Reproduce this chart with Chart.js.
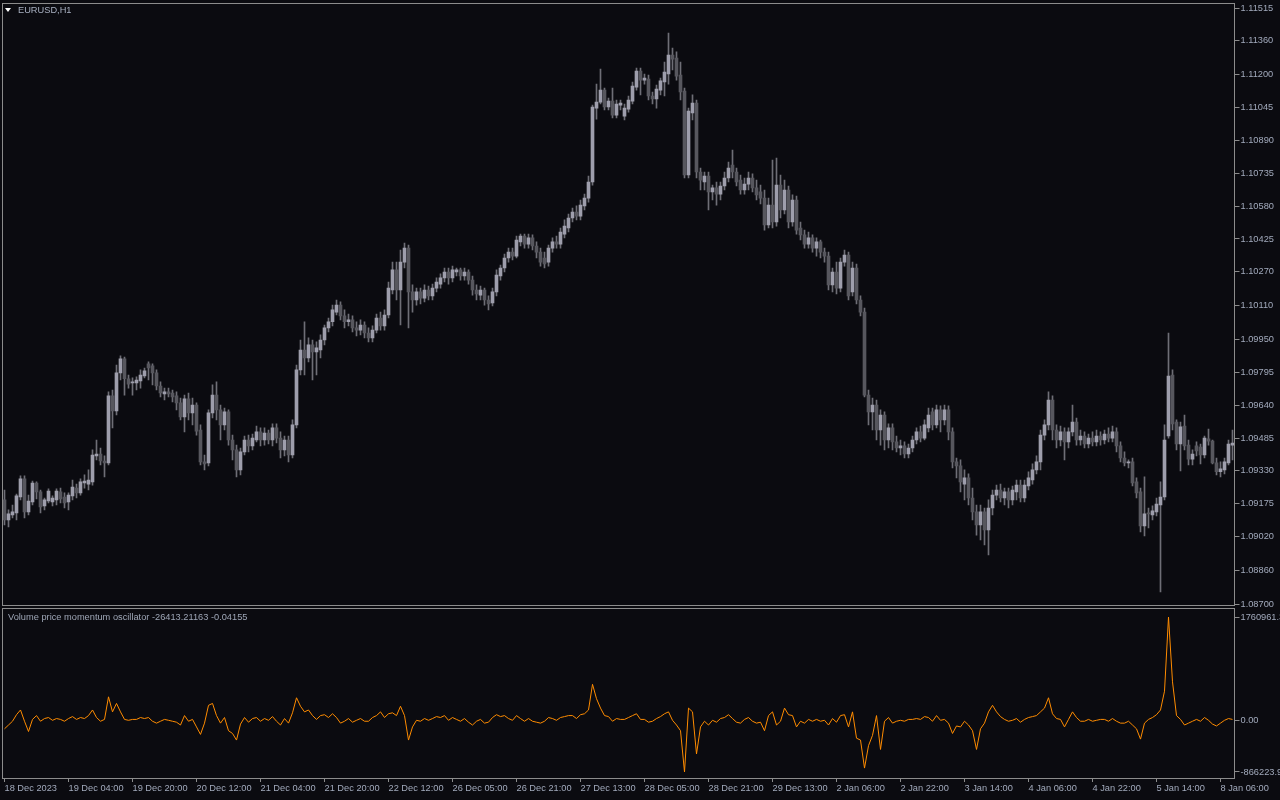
<!DOCTYPE html>
<html>
<head>
<meta charset="utf-8">
<title>EURUSD,H1</title>
<script src="https://cdn.jsdelivr.net/npm/chart.js@4.4.0/dist/chart.umd.min.js"></script>
<style>
  body { margin: 0; background: #0b0b10; width: 1280px; height: 800px; overflow: hidden; position: relative;
         font-family: "Liberation Sans", Arial, sans-serif; }
  canvas { position: absolute; left: 0; }
  #priceChart { top: 0; }
  #oscChart { top: 600px; }
  .lbl { position: absolute; font-size: 9.25px; line-height: 11px; color: #a9b1c2; white-space: nowrap; }
  #sym { left: 18px; top: 5px; }
  #osc { left: 8px; top: 612px; color: #9ea6b6; }
  #tri { position: absolute; left: 5px; top: 8px; width: 0; height: 0;
         border-left: 3px solid transparent; border-right: 3px solid transparent; border-top: 4px solid #fff; }
</style>
</head>
<body>
<canvas id="priceChart" width="1280" height="607"></canvas>
<canvas id="oscChart" width="1280" height="200"></canvas>
<div id="tri"></div>
<div class="lbl" id="sym">EURUSD,H1</div>
<div class="lbl" id="osc">Volume price momentum oscillator -26413.21163 -0.04155</div>
<script>
// === Data (H1 bars, 18 Dec 2023 -> 8 Jan 2024) ===
const opens = [
1.09193,1.09099,1.09122,1.09132,1.09207,1.09293,1.09137,1.09184,1.09273,1.09231,
1.09165,1.09188,1.09184,1.09193,1.09231,1.09207,1.09184,1.09212,1.09249,1.09226,
1.09273,1.09268,1.09278,1.09401,1.09410,1.09377,1.09368,1.09684,1.09613,1.09793,
1.09859,1.09765,1.09745,1.09745,1.09755,1.09778,1.09835,1.09826,1.09793,1.09731,
1.09693,1.09703,1.09698,1.09684,1.09651,1.09585,1.09670,1.09604,1.09641,1.09523,
1.09373,1.09368,1.09604,1.09688,1.09618,1.09547,1.09609,1.09476,1.09429,1.09335,
1.09420,1.09476,1.09448,1.09476,1.09514,1.09476,1.09509,1.09476,1.09533,1.09485,
1.09429,1.09476,1.09405,1.09547,1.09807,1.09901,1.09863,1.09925,1.09892,1.09901,
1.09948,1.10005,1.10034,1.10080,1.10113,1.10062,1.10034,1.10043,1.10005,1.09995,
1.10019,1.09981,1.09958,1.09995,1.10052,1.10015,1.10066,1.10184,1.10279,1.10184,
1.10316,1.10382,1.10175,1.10137,1.10175,1.10146,1.10184,1.10156,1.10193,1.10212,
1.10241,1.10269,1.10241,1.10269,1.10279,1.10250,1.10269,1.10231,1.10184,1.10160,
1.10184,1.10137,1.10123,1.10175,1.10250,1.10288,1.10335,1.10363,1.10344,1.10411,
1.10439,1.10401,1.10430,1.10392,1.10363,1.10335,1.10316,1.10382,1.10411,1.10401,
1.10448,1.10477,1.10524,1.10552,1.10533,1.10581,1.10618,1.10694,1.11043,1.11071,
1.11128,1.11048,1.11076,1.11010,1.11057,1.11005,1.11038,1.11076,1.11142,1.11218,
1.11175,1.11180,1.11100,1.11086,1.11128,1.11166,1.11204,1.11293,1.11279,1.11199,
1.11123,1.10727,1.11020,1.11067,1.10741,1.10694,1.10722,1.10647,1.10666,1.10637,
1.10675,1.10713,1.10774,1.10741,1.10703,1.10656,1.10684,1.10713,1.10666,1.10647,
1.10618,1.10491,1.10585,1.10505,1.10680,1.10562,1.10656,1.10505,1.10609,1.10477,
1.10444,1.10401,1.10430,1.10382,1.10411,1.10363,1.10344,1.10208,1.10269,1.10193,
1.10316,1.10349,1.10175,1.10288,1.10137,1.10080,1.09688,1.09609,1.09641,1.09523,
1.09594,1.09476,1.09533,1.09467,1.09438,1.09448,1.09410,1.09438,1.09476,1.09514,
1.09485,1.09533,1.09609,1.09547,1.09618,1.09571,1.09618,1.09514,1.09373,1.09354,
1.09268,1.09297,1.09202,1.09137,1.09075,1.09137,1.09051,1.09155,1.09216,1.09240,
1.09202,1.09231,1.09193,1.09231,1.09263,1.09202,1.09259,1.09287,1.09335,1.09373,
1.09499,1.09547,1.09665,1.09523,1.09476,1.09514,1.09467,1.09514,1.09561,1.09476,
1.09495,1.09457,1.09485,1.09467,1.09495,1.09476,1.09504,1.09485,1.09514,1.09448,
1.09391,1.09368,1.09373,1.09278,1.09231,1.09070,1.09132,1.09122,1.09137,1.09169,
1.09207,1.09495,1.09783,1.09561,1.09457,1.09542,1.09452,1.09386,1.09448,1.09443,
1.09405,1.09481,1.09471,1.09368,1.09326,1.09335,1.09368,1.09452
];
const highs = [
1.09240,1.09146,1.09169,1.09221,1.09307,1.09307,1.09216,1.09282,1.09278,1.09240,
1.09202,1.09245,1.09212,1.09245,1.09249,1.09226,1.09226,1.09287,1.09268,1.09293,
1.09311,1.09335,1.09429,1.09476,1.09438,1.09401,1.09703,1.09712,1.09830,1.09873,
1.09868,1.09783,1.09769,1.09774,1.09807,1.09816,1.09845,1.09835,1.09807,1.09750,
1.09721,1.09721,1.09712,1.09703,1.09674,1.09688,1.09698,1.09674,1.09651,1.09547,
1.09405,1.09618,1.09736,1.09750,1.09641,1.09627,1.09618,1.09499,1.09452,1.09438,
1.09495,1.09499,1.09504,1.09542,1.09533,1.09533,1.09523,1.09552,1.09552,1.09514,
1.09495,1.09495,1.09571,1.09830,1.09948,1.10034,1.09958,1.09948,1.09939,1.09972,
1.10019,1.10052,1.10113,1.10137,1.10128,1.10090,1.10071,1.10062,1.10034,1.10043,
1.10034,1.10005,1.10015,1.10071,1.10080,1.10090,1.10222,1.10316,1.10316,1.10373,
1.10406,1.10396,1.10208,1.10193,1.10193,1.10208,1.10203,1.10212,1.10241,1.10260,
1.10288,1.10288,1.10297,1.10288,1.10288,1.10288,1.10279,1.10250,1.10208,1.10203,
1.10193,1.10156,1.10193,1.10279,1.10302,1.10354,1.10382,1.10382,1.10439,1.10448,
1.10448,1.10448,1.10444,1.10411,1.10382,1.10363,1.10396,1.10430,1.10439,1.10477,
1.10515,1.10543,1.10571,1.10581,1.10609,1.10637,1.10722,1.11057,1.11156,1.11227,
1.11137,1.11090,1.11137,1.11081,1.11081,1.11062,1.11100,1.11166,1.11232,1.11232,
1.11204,1.11199,1.11119,1.11152,1.11185,1.11260,1.11397,1.11326,1.11308,1.11260,
1.11137,1.11043,1.11105,1.11081,1.10760,1.10741,1.10741,1.10680,1.10694,1.10694,
1.10741,1.10788,1.10845,1.10760,1.10727,1.10713,1.10741,1.10732,1.10703,1.10680,
1.10656,1.10618,1.10798,1.10807,1.10727,1.10703,1.10675,1.10633,1.10628,1.10505,
1.10467,1.10458,1.10444,1.10430,1.10420,1.10382,1.10363,1.10288,1.10316,1.10335,
1.10373,1.10363,1.10316,1.10307,1.10156,1.10099,1.09712,1.09674,1.09665,1.09618,
1.09609,1.09552,1.09552,1.09495,1.09476,1.09467,1.09457,1.09495,1.09533,1.09542,
1.09571,1.09627,1.09627,1.09641,1.09637,1.09641,1.09637,1.09533,1.09391,1.09382,
1.09335,1.09316,1.09249,1.09169,1.09169,1.09155,1.09193,1.09240,1.09263,1.09268,
1.09249,1.09249,1.09259,1.09287,1.09287,1.09287,1.09326,1.09363,1.09401,1.09523,
1.09571,1.09703,1.09684,1.09547,1.09542,1.09533,1.09533,1.09641,1.09580,1.09523,
1.09514,1.09504,1.09514,1.09523,1.09514,1.09523,1.09533,1.09542,1.09533,1.09467,
1.09420,1.09382,1.09391,1.09297,1.09249,1.09302,1.09155,1.09165,1.09202,1.09278,
1.09547,1.09981,1.09807,1.09571,1.09561,1.09594,1.09476,1.09429,1.09467,1.09457,
1.09495,1.09528,1.09476,1.09391,1.09373,1.09391,1.09476,1.09523
];
const lows = [
1.09075,1.09066,1.09108,1.09099,1.09193,1.09108,1.09122,1.09169,1.09198,1.09132,
1.09146,1.09179,1.09165,1.09169,1.09179,1.09155,1.09146,1.09193,1.09202,1.09216,
1.09249,1.09240,1.09263,1.09382,1.09358,1.09302,1.09358,1.09533,1.09594,1.09759,
1.09688,1.09721,1.09688,1.09712,1.09721,1.09769,1.09759,1.09736,1.09712,1.09679,
1.09665,1.09679,1.09656,1.09618,1.09571,1.09514,1.09571,1.09547,1.09499,1.09358,
1.09335,1.09354,1.09580,1.09571,1.09476,1.09523,1.09452,1.09382,1.09302,1.09311,
1.09405,1.09420,1.09429,1.09467,1.09448,1.09452,1.09457,1.09448,1.09462,1.09391,
1.09401,1.09373,1.09391,1.09533,1.09783,1.09783,1.09845,1.09759,1.09783,1.09863,
1.09925,1.09986,1.10015,1.10066,1.10043,1.10005,1.10015,1.09986,1.09967,1.09972,
1.09958,1.09939,1.09939,1.09981,1.09995,1.09995,1.10052,1.10165,1.10137,1.10019,
1.10288,1.10005,1.10080,1.10113,1.10118,1.10128,1.10137,1.10137,1.10175,1.10193,
1.10222,1.10212,1.10222,1.10250,1.10231,1.10231,1.10212,1.10160,1.10137,1.10137,
1.10113,1.10090,1.10109,1.10156,1.10231,1.10269,1.10316,1.10326,1.10335,1.10392,
1.10382,1.10382,1.10373,1.10335,1.10297,1.10288,1.10297,1.10363,1.10382,1.10382,
1.10430,1.10458,1.10505,1.10515,1.10515,1.10562,1.10599,1.10679,1.10991,1.11062,
1.11034,1.11034,1.10996,1.10996,1.11034,1.10987,1.11024,1.11062,1.11128,1.11105,
1.11156,1.11081,1.11062,1.11043,1.11105,1.11100,1.11156,1.11223,1.11175,1.11081,
1.10713,1.10713,1.10987,1.10713,1.10656,1.10656,1.10562,1.10609,1.10585,1.10609,
1.10656,1.10694,1.10713,1.10675,1.10637,1.10637,1.10656,1.10647,1.10609,1.10590,
1.10467,1.10477,1.10477,1.10486,1.10524,1.10543,1.10477,1.10486,1.10448,1.10420,
1.10382,1.10382,1.10363,1.10344,1.10335,1.10316,1.10184,1.10175,1.10165,1.10175,
1.10297,1.10137,1.10156,1.10118,1.10062,1.09679,1.09547,1.09523,1.09476,1.09452,
1.09429,1.09438,1.09429,1.09420,1.09405,1.09391,1.09391,1.09420,1.09457,1.09467,
1.09476,1.09514,1.09523,1.09533,1.09514,1.09547,1.09476,1.09344,1.09297,1.09231,
1.09193,1.09169,1.09099,1.09027,1.09004,1.08981,1.08933,1.09122,1.09193,1.09184,
1.09169,1.09155,1.09169,1.09193,1.09184,1.09184,1.09240,1.09268,1.09316,1.09335,
1.09476,1.09523,1.09476,1.09438,1.09448,1.09382,1.09438,1.09495,1.09452,1.09452,
1.09438,1.09438,1.09448,1.09448,1.09452,1.09457,1.09467,1.09467,1.09420,1.09373,
1.09354,1.09344,1.09259,1.09202,1.09042,1.09023,1.09061,1.09099,1.09118,1.08759,
1.09193,1.09485,1.09523,1.09429,1.09330,1.09429,1.09358,1.09358,1.09401,1.09363,
1.09391,1.09452,1.09363,1.09311,1.09302,1.09316,1.09358,1.09382
];
const closes = [
1.09099,1.09127,1.09137,1.09212,1.09293,1.09137,1.09188,1.09273,1.09231,1.09160,
1.09193,1.09235,1.09202,1.09235,1.09198,1.09179,1.09216,1.09254,1.09226,1.09278,
1.09282,1.09287,1.09405,1.09410,1.09377,1.09368,1.09684,1.09613,1.09793,1.09859,
1.09765,1.09740,1.09750,1.09759,1.09783,1.09802,1.09816,1.09793,1.09731,1.09698,
1.09703,1.09693,1.09679,1.09651,1.09585,1.09670,1.09604,1.09641,1.09518,1.09373,
1.09363,1.09604,1.09688,1.09618,1.09547,1.09609,1.09476,1.09429,1.09335,1.09420,
1.09476,1.09448,1.09485,1.09514,1.09476,1.09509,1.09476,1.09533,1.09485,1.09429,
1.09476,1.09405,1.09547,1.09807,1.09901,1.09863,1.09925,1.09892,1.09911,1.09948,
1.10005,1.10034,1.10090,1.10113,1.10062,1.10034,1.10043,1.10005,1.09995,1.10019,
1.09981,1.09958,1.09995,1.10052,1.10015,1.10066,1.10193,1.10279,1.10184,1.10316,
1.10382,1.10175,1.10137,1.10175,1.10146,1.10184,1.10156,1.10193,1.10222,1.10241,
1.10269,1.10241,1.10279,1.10279,1.10250,1.10269,1.10231,1.10184,1.10165,1.10184,
1.10137,1.10118,1.10175,1.10255,1.10288,1.10335,1.10363,1.10344,1.10420,1.10439,
1.10401,1.10430,1.10392,1.10363,1.10316,1.10307,1.10382,1.10411,1.10401,1.10458,
1.10486,1.10524,1.10552,1.10533,1.10585,1.10618,1.10694,1.11048,1.11071,1.11128,
1.11048,1.11076,1.11010,1.11062,1.11067,1.11043,1.11081,1.11147,1.11218,1.11175,
1.11185,1.11100,1.11086,1.11133,1.11171,1.11213,1.11293,1.11274,1.11194,1.11119,
1.10727,1.11029,1.11067,1.10741,1.10703,1.10722,1.10647,1.10666,1.10637,1.10675,
1.10713,1.10760,1.10741,1.10694,1.10656,1.10684,1.10713,1.10666,1.10633,1.10618,
1.10491,1.10585,1.10505,1.10680,1.10562,1.10656,1.10505,1.10609,1.10467,1.10444,
1.10401,1.10430,1.10382,1.10411,1.10363,1.10344,1.10208,1.10269,1.10193,1.10316,
1.10349,1.10156,1.10288,1.10137,1.10080,1.09688,1.09609,1.09641,1.09523,1.09594,
1.09476,1.09533,1.09467,1.09438,1.09448,1.09410,1.09438,1.09476,1.09514,1.09485,
1.09547,1.09594,1.09547,1.09618,1.09571,1.09618,1.09514,1.09373,1.09354,1.09278,
1.09297,1.09202,1.09137,1.09075,1.09137,1.09051,1.09155,1.09216,1.09240,1.09202,
1.09231,1.09193,1.09240,1.09263,1.09202,1.09263,1.09297,1.09335,1.09373,1.09499,
1.09547,1.09665,1.09523,1.09476,1.09514,1.09467,1.09514,1.09561,1.09476,1.09495,
1.09457,1.09485,1.09467,1.09495,1.09476,1.09504,1.09485,1.09514,1.09448,1.09391,
1.09368,1.09373,1.09273,1.09226,1.09070,1.09127,1.09127,1.09141,1.09174,1.09207,
1.09476,1.09778,1.09552,1.09457,1.09538,1.09448,1.09386,1.09410,1.09424,1.09405,
1.09485,1.09471,1.09368,1.09326,1.09340,1.09373,1.09457,1.09462
];
const oscValues = [
-134000,-70000,-6000,105000,185000,-6000,-180000,25000,90000,-6000,
40000,57000,10000,40000,25000,-6000,40000,73000,25000,57000,
40000,90000,185000,57000,-6000,25000,408000,153000,296000,153000,
25000,10000,25000,25000,57000,40000,57000,-6000,-38000,-6000,
25000,10000,-6000,-22000,-70000,90000,-6000,25000,-102000,-229000,
-38000,264000,296000,90000,-38000,57000,-166000,-213000,-325000,-54000,
57000,-22000,40000,57000,-6000,40000,10000,73000,-6000,-70000,
40000,-38000,137000,392000,248000,153000,185000,90000,25000,90000,
105000,57000,121000,57000,-38000,-6000,40000,-22000,10000,40000,
-6000,-6000,57000,90000,153000,57000,121000,137000,90000,248000,
90000,-325000,-102000,10000,-6000,40000,10000,40000,73000,57000,
90000,10000,57000,25000,-6000,40000,-22000,-70000,-6000,25000,
-38000,-22000,57000,105000,73000,90000,40000,10000,90000,40000,
-6000,40000,-6000,-22000,-38000,-6000,57000,40000,10000,57000,
73000,90000,90000,40000,105000,121000,185000,620000,376000,217000,
90000,73000,-6000,40000,25000,25000,57000,90000,121000,25000,
25000,-22000,-6000,40000,73000,121000,153000,10000,-70000,-166000,
-866223.9,217000,153000,-560000,-102000,-6000,-70000,10000,-22000,40000,
57000,105000,40000,-22000,-38000,25000,57000,-6000,-38000,-22000,
-166000,90000,153000,-70000,-6000,217000,105000,90000,-102000,-6000,
-38000,25000,-6000,25000,-6000,10000,-70000,40000,-22000,90000,
105000,-102000,153000,-293000,-325000,-800000,-420000,-245000,90000,-484000,
-6000,57000,-38000,-6000,10000,-6000,25000,25000,40000,25000,
73000,57000,-6000,90000,10000,25000,-38000,-213000,-86000,-102000,
-6000,-70000,-166000,-484000,-134000,-38000,153000,264000,153000,73000,
25000,-6000,10000,40000,-22000,25000,57000,73000,90000,153000,
217000,392000,121000,40000,25000,-102000,25000,153000,57000,-6000,
-6000,25000,-6000,10000,25000,25000,-6000,40000,-6000,-38000,
-38000,-6000,-70000,-134000,-309000,-38000,25000,57000,105000,185000,
503000,1760961.3,662000,90000,25000,-70000,-38000,-6000,25000,-6000,
57000,10000,-54000,-86000,-38000,10000,40000,25000
];
const tickLabels = [
  "18 Dec 2023", "19 Dec 04:00", "19 Dec 20:00", "20 Dec 12:00", "21 Dec 04:00",
  "21 Dec 20:00", "22 Dec 12:00", "26 Dec 05:00", "26 Dec 21:00", "27 Dec 13:00",
  "28 Dec 05:00", "28 Dec 21:00", "29 Dec 13:00", "2 Jan 06:00", "2 Jan 22:00",
  "3 Jan 14:00", "4 Jan 06:00", "4 Jan 22:00", "5 Jan 14:00", "8 Jan 06:00"
];
const tickEvery = 16; // one time label per 16 bars
const priceTicks = [
  1.11515, 1.11360, 1.11200, 1.11045, 1.10890, 1.10735, 1.10580, 1.10425, 1.10270, 1.10110,
  1.09950, 1.09795, 1.09640, 1.09485, 1.09330, 1.09175, 1.09020, 1.08860, 1.08700
];
const oscTicks = [1760961.3, 0, -866223.9];

// === Styles ===
const GRAY = "#8c8c8c";
const TEXT = "#a2aabc";
const WICK = "#6e6e76";
const BULL = "#9e9eac";
const BEAR = "#57575e";
const FONT = { family: "'Liberation Sans', Arial, sans-serif", size: 9.25 };

const barIdx = opens.map((_, i) => String(i));
const bodyColors = opens.map((o, i) => closes[i] > o ? BULL : BEAR);

// thin frame around each pane's plot area
const framePlugin = {
  id: "frame",
  afterDatasetsDraw(chart) {
    const { ctx, chartArea: a } = chart;
    const l = Math.floor(a.left) + 0.5, t = Math.floor(a.top) + 0.5;
    const r = Math.floor(a.right) + 0.5, b = Math.floor(a.bottom) + 0.5;
    ctx.save();
    ctx.strokeStyle = GRAY;
    ctx.lineWidth = 1;
    ctx.strokeRect(l, t, r - l, b - t);
    ctx.restore();
  }
};

const rightAxis = (min, max, values, fmt) => ({
  position: "right",
  min, max,
  afterBuildTicks: s => { s.ticks = values.map(v => ({ value: v })); },
  afterFit: s => { s.width = 45.5; s.paddingTop = 0; s.paddingBottom = 0; },
  grid: { drawOnChartArea: false, drawTicks: true, tickLength: 5, color: GRAY },
  border: { display: false },
  ticks: { color: TEXT, font: FONT, padding: 1, callback: fmt }
});

// === Price pane (candles) ===
new Chart(document.getElementById("priceChart"), {
  type: "bar",
  data: {
    labels: barIdx,
    datasets: [
      {
        data: lows.map((l, i) => [l, highs[i]]),
        backgroundColor: WICK,
        barThickness: 1,
        grouped: false,
        order: 2
      },
      {
        data: opens.map((o, i) => [o, closes[i]]),
        backgroundColor: bodyColors,
        barThickness: 3,
        minBarLength: 1,
        grouped: false,
        order: 1
      }
    ]
  },
  options: {
    responsive: false,
    animation: false,
    devicePixelRatio: 1,
    layout: { padding: { top: 3, left: 2.5, right: 0, bottom: 2 } },
    plugins: { legend: { display: false }, tooltip: { enabled: false } },
    scales: {
      x: { display: false },
      y: rightAxis(1.08697, 1.11539, priceTicks, v => v.toFixed(5))
    }
  },
  plugins: [framePlugin]
});

// === Oscillator pane ===
new Chart(document.getElementById("oscChart"), {
  type: "line",
  data: {
    labels: barIdx,
    datasets: [{
      data: oscValues,
      borderColor: "#ff8c00",
      borderWidth: 1,
      pointRadius: 0,
      tension: 0
    }]
  },
  options: {
    responsive: false,
    animation: false,
    devicePixelRatio: 1,
    layout: { padding: { top: 8, left: 2.5, right: 0, bottom: 0 } },
    plugins: { legend: { display: false }, tooltip: { enabled: false } },
    scales: {
      x: {
        offset: true,
        afterBuildTicks: s => { s.ticks = tickLabels.map((_, k) => ({ value: k * tickEvery })); },
        afterFit: s => { s.height = 22; s.paddingLeft = 0; s.paddingRight = 0; },
        grid: { drawOnChartArea: false, drawTicks: true, tickLength: 4, color: GRAY, offset: false },
        border: { display: false },
        ticks: {
          color: TEXT, font: FONT, align: "start", padding: 1,
          maxRotation: 0, minRotation: 0, autoSkip: false,
          callback: v => tickLabels[v / tickEvery]
        }
      },
      y: rightAxis(-967922, 1913508, oscTicks, v => v === 0 ? "0.00" : v.toFixed(1))
    }
  },
  plugins: [framePlugin]
});
</script>
</body>
</html>
